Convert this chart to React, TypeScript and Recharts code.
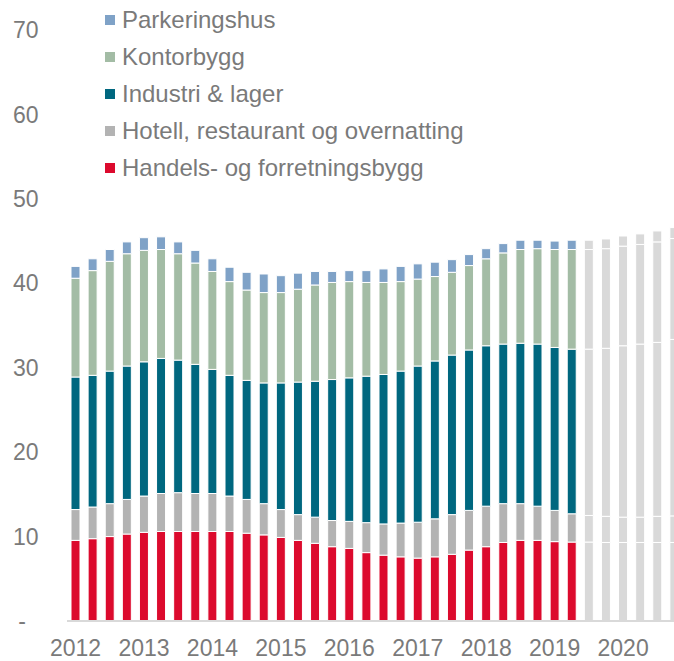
import React from "react";
import { BarChart, Bar, XAxis, YAxis, Cell } from "recharts";

const quarters: string[] = [
  "2012K1","2012K2","2012K3","2012K4",
  "2013K1","2013K2","2013K3","2013K4",
  "2014K1","2014K2","2014K3","2014K4",
  "2015K1","2015K2","2015K3","2015K4",
  "2016K1","2016K2","2016K3","2016K4",
  "2017K1","2017K2","2017K3","2017K4",
  "2018K1","2018K2","2018K3","2018K4",
  "2019K1","2019K2","2019K3","2019K4",
  "2020K1","2020K2","2020K3","2020K4",
];
const forecastStart = "2019K3";

const handels: number[] = [9.55,9.75,10.0,10.3,10.5,10.6,10.6,10.6,10.6,10.6,10.4,10.2,9.9,9.55,9.2,8.8,8.6,8.1,7.8,7.6,7.45,7.6,7.9,8.4,8.8,9.3,9.55,9.55,9.4,9.35,9.35,9.3,9.3,9.3,9.3,9.3];
const hotell: number[] = [3.65,3.75,3.9,4.1,4.3,4.5,4.6,4.5,4.5,4.2,4.0,3.7,3.3,3.05,3.1,3.1,3.2,3.55,3.7,4.0,4.25,4.5,4.7,4.7,4.8,4.6,4.35,4.05,3.7,3.35,3.15,3.1,3.0,3.0,3.1,3.15];
const industri: number[] = [15.7,15.6,15.7,15.8,15.9,16.0,15.7,15.3,14.7,14.3,14.1,14.3,15.0,15.7,16.1,16.7,17.0,17.35,17.7,18.0,18.5,18.7,18.9,19.0,19.0,18.9,19.0,19.2,19.3,19.5,19.7,19.9,20.3,20.5,20.6,20.9];
const kontor: number[] = [11.7,12.4,13.0,13.3,13.2,12.9,12.6,12.0,11.6,11.1,10.7,10.7,10.7,11.0,11.4,11.5,11.4,11.1,10.9,10.6,10.3,10.0,9.8,10.0,10.3,10.8,11.1,11.3,11.6,11.8,11.8,11.8,11.8,11.8,11.9,11.95];
const parkering: number[] = [1.4,1.4,1.4,1.4,1.5,1.5,1.4,1.5,1.5,1.7,2.1,2.2,2.0,1.9,1.6,1.3,1.3,1.4,1.6,1.8,1.8,1.7,1.5,1.3,1.2,1.1,1.1,1.0,1.0,1.1,1.1,1.15,1.2,1.25,1.3,1.3];

const yTicks: number[] = [0, 10, 20, 30, 40, 50, 60, 70];

const seriesNames = [
  "Handels- og forretningsbygg",
  "Hotell, restaurant og overnatting",
  "Industri & lager",
  "Kontorbygg",
  "Parkeringshus",
];
const seriesKeys = ["handels", "hotell", "industri", "kontor", "parkering"];
const seriesColors = ["#DC0A2D", "#B3B3B3", "#00677F", "#A3BCA5", "#7FA2C7"];
const forecastColor = "#D9D9D9";
const textColor = "#7A7A7A";
const fontFamily = "'Liberation Sans', Arial, sans-serif";

const seriesValues = [handels, hotell, industri, kontor, parkering];
const data = quarters.map((q, i) => {
  const row: Record<string, string | number> = { q };
  seriesKeys.forEach((k, s) => {
    row[k] = seriesValues[s][i];
  });
  return row;
});
const forecastIndex = quarters.indexOf(forecastStart);

const YTick = (props: any) => {
  const { y, payload } = props;
  const v = payload.value;
  if (v === 0) {
    return (
      <text x={26} y={y} dy="0.355em" textAnchor="end" fill={textColor} fontSize={23} fontFamily={fontFamily}>
        -
      </text>
    );
  }
  return (
    <text x={38.5} y={y} dy="0.355em" textAnchor="end" fill={textColor} fontSize={23} fontFamily={fontFamily}>
      {v}
    </text>
  );
};

const XTick = (props: any) => {
  const { x, payload } = props;
  const v: string = payload.value;
  if (!v.endsWith("K1")) return null;
  return (
    <text x={x} y={656} textAnchor="middle" fill={textColor} fontSize={23} fontFamily={fontFamily}>
      {v.slice(0, 4)}
    </text>
  );
};

export default function App() {
  const legendItems = seriesNames.map((n, i) => ({ name: n, color: seriesColors[i] })).reverse();
  return (
    <div style={{ position: "absolute", left: 0, top: 0, width: 674, height: 661, overflow: "hidden", background: "#fff" }}>
      <BarChart
        width={683}
        height={661}
        data={data}
        margin={{ top: 30, right: 0, left: 0, bottom: 0 }}
        barSize={9}
      >
        <YAxis
          width={67}
          domain={[0, 70]}
          ticks={yTicks}
          axisLine={false}
          tickLine={false}
          tick={<YTick />}
          interval={0}
        />
        <XAxis
          dataKey="q"
          height={40}
          interval={0}
          tickLine={false}
          axisLine={{ stroke: "#D9D9D9", strokeWidth: 2 }}
          tick={<XTick />}
        />
        {seriesKeys.map((k, s) => (
          <Bar key={k} dataKey={k} stackId="a" name={seriesNames[s]} fill={seriesColors[s]} stroke="#fff" strokeWidth={1} isAnimationActive={false}>
            {data.map((_, i) => (
              <Cell key={i} fill={i >= forecastIndex ? forecastColor : seriesColors[s]} />
            ))}
          </Bar>
        ))}
      </BarChart>
      <div style={{ position: "absolute", left: 105, top: 2, fontFamily, fontSize: 24, color: textColor }}>
        {legendItems.map((it) => (
          <div key={it.name} style={{ display: "flex", alignItems: "center", height: 36.8, whiteSpace: "nowrap" }}>
            <span style={{ display: "inline-block", width: 10, height: 10, background: it.color, marginRight: 7 }} />
            <span>{it.name}</span>
          </div>
        ))}
      </div>
    </div>
  );
}
